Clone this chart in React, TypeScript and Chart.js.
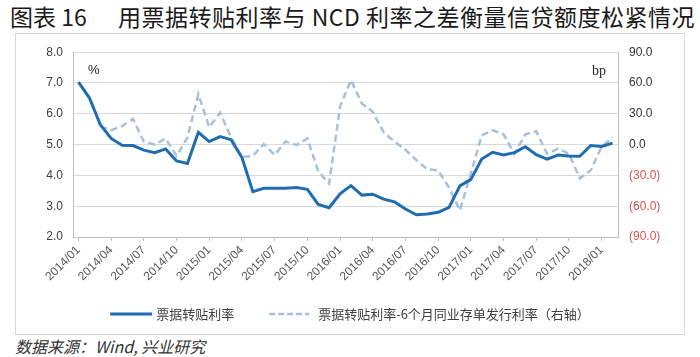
import React, { useEffect, useRef } from 'react';
import { Chart, registerables } from 'chart.js';

Chart.register(...registerables);

const months: string[] = [
  '2014/01', '2014/02', '2014/03', '2014/04', '2014/05', '2014/06', '2014/07', '2014/08', '2014/09', '2014/10', '2014/11', '2014/12',
  '2015/01', '2015/02', '2015/03', '2015/04', '2015/05', '2015/06', '2015/07', '2015/08', '2015/09', '2015/10', '2015/11', '2015/12',
  '2016/01', '2016/02', '2016/03', '2016/04', '2016/05', '2016/06', '2016/07', '2016/08', '2016/09', '2016/10', '2016/11', '2016/12',
  '2017/01', '2017/02', '2017/03', '2017/04', '2017/05', '2017/06', '2017/07', '2017/08', '2017/09', '2017/10', '2017/11', '2017/12',
  '2018/01', '2018/02',
];

// 票据转贴利率 (%)
const discountRate: number[] = [
  7.03, 6.52, 5.65, 5.2, 4.98, 4.97, 4.82, 4.74, 4.86, 4.47, 4.39, 5.4,
  5.1, 5.26, 5.16, 4.58, 3.47, 3.58, 3.58, 3.58, 3.61, 3.55, 3.06, 2.95,
  3.4, 3.67, 3.36, 3.39, 3.23, 3.14, 2.91, 2.72, 2.75, 2.8, 2.96, 3.66,
  3.87, 4.53, 4.75, 4.66, 4.74, 4.93, 4.67, 4.53, 4.66, 4.63, 4.62, 4.97,
  4.94, 5.05,
];

// 票据转贴利率-6个月同业存单发行利率 (bp, 右轴)
const spreadBp: (number | null)[] = [
  null, null, 18, 14, 18, 25, 3, 0, 6, -11, 7, 49,
  17, 31, 7, -12, -11, 0.5, -10, 3, -0.5, 6, -26, -38,
  37, 63, 40, 32, 12, 3, -5, -15, -24, -25, -42, -64,
  -28, 9, 14, 10, -9, 10, 13, -9, -4, -9, -33, -25,
  -2, 7,
];

const leftMin = 2;
const leftMax = 8;
const leftStep = 1;
const rightMin = -90;
const rightMax = 90;
const rightStep = 30;
const tickEvery = 3;

const titleLead = '图表 16';
const titleMain = '用票据转贴利率与 NCD 利率之差衡量信贷额度松紧情况';
const seriesNames = ['票据转贴利率', '票据转贴利率-6个月同业存单发行利率（右轴）'];
const sourceText = '数据来源：Wind, 兴业研究';

const SOLID = '#1f6db1';
const DASHED = '#a7c1dc';
const GRID = '#d9d9d9';
const AXIS = '#bfbfbf';
const CJK = '"Noto Sans CJK SC", "Noto Sans", sans-serif';

const overlayPlugin = {
  id: 'overlay',
  afterDraw(chart: any) {
    const { ctx, chartArea } = chart;
    ctx.save();
    ctx.fillStyle = '#262626';
    ctx.textBaseline = 'middle';
    ctx.textAlign = 'left';
    ctx.font = '13px "Liberation Sans", Arial, sans-serif';
    ctx.fillText('%', chartArea.left + 15, chartArea.top + 18);
    ctx.textAlign = 'right';
    ctx.font = '14px "Liberation Serif", serif';
    ctx.fillText('bp', chartArea.right - 12, chartArea.top + 19);

    // legend
    ctx.font = '13px ' + CJK;
    ctx.fillStyle = '#404040';
    ctx.textAlign = 'left';
    const w1 = ctx.measureText(seriesNames[0]).width;
    const w2 = ctx.measureText(seriesNames[1]).width;
    const s1 = 42, g1 = 4, gap = 35, s2 = 40, g2 = 9;
    const total = s1 + g1 + w1 + gap + s2 + g2 + w2;
    let x = chart.width / 2 - total / 2;
    const ly = 280;
    ctx.lineWidth = 3;
    ctx.strokeStyle = SOLID;
    ctx.setLineDash([]);
    ctx.beginPath();
    ctx.moveTo(x, ly);
    ctx.lineTo(x + s1, ly);
    ctx.stroke();
    x += s1 + g1;
    ctx.fillText(seriesNames[0], x, ly);
    x += w1 + gap;
    ctx.lineWidth = 2.5;
    ctx.strokeStyle = DASHED;
    ctx.setLineDash([6, 3]);
    ctx.beginPath();
    ctx.moveTo(x, ly);
    ctx.lineTo(x + s2, ly);
    ctx.stroke();
    ctx.setLineDash([]);
    x += s2 + g2;
    ctx.fillText(seriesNames[1], x, ly);
    ctx.restore();
  },
};

function ChartBox() {
  const ref = useRef<HTMLCanvasElement | null>(null);
  useEffect(() => {
    if (!ref.current) return;
    const chart = new Chart(ref.current, {
      type: 'line',
      data: {
        labels: months,
        datasets: [
          {
            label: seriesNames[0],
            data: discountRate,
            borderColor: SOLID,
            backgroundColor: SOLID,
            borderWidth: 3,
            pointRadius: 0,
            tension: 0,
            yAxisID: 'y',
            order: 1,
          },
          {
            label: seriesNames[1],
            data: spreadBp,
            borderColor: DASHED,
            backgroundColor: DASHED,
            borderWidth: 2.5,
            borderDash: [7, 4],
            pointRadius: 0,
            tension: 0,
            yAxisID: 'y1',
            order: 2,
          },
        ],
      },
      options: {
        animation: false,
        responsive: false,
        maintainAspectRatio: false,
        layout: { padding: { top: 14, left: 0, right: 0, bottom: 0 } },
        plugins: { legend: { display: false }, tooltip: { enabled: false } },
        scales: {
          x: {
            type: 'category',
            offset: true,
            afterFit: (s: any) => { s.height = 97; },
            grid: { offset: false, drawOnChartArea: false, drawTicks: true, tickLength: 4, color: AXIS },
            border: { display: true, color: AXIS },
            ticks: {
              autoSkip: false,
              maxRotation: 45,
              minRotation: 45,
              padding: 2,
              color: '#595959',
              font: { size: 12, family: '"Liberation Sans", Arial, sans-serif' },
              callback: (_v: any, i: number) => (i % tickEvery === 0 ? months[i] : null),
            },
          },
          y: {
            position: 'left',
            min: leftMin,
            max: leftMax,
            afterFit: (s: any) => { s.width = 57; },
            grid: { color: GRID, drawTicks: false },
            border: { display: true, color: AXIS },
            ticks: {
              stepSize: leftStep,
              padding: 10,
              color: '#404040',
              font: { size: 12, family: '"Liberation Sans", Arial, sans-serif' },
              callback: (v: any) => Number(v).toFixed(1),
            },
          },
          y1: {
            position: 'right',
            min: rightMin,
            max: rightMax,
            afterFit: (s: any) => { s.width = 66; },
            grid: { drawOnChartArea: false, drawTicks: false },
            border: { display: true, color: AXIS },
            ticks: {
              stepSize: rightStep,
              padding: 11,
              color: (c: any) => (c.tick && c.tick.value < 0 ? '#d9534f' : '#333333'),
              font: { size: 12, family: '"Liberation Sans", Arial, sans-serif' },
              callback: (v: any) => {
                const n = Number(v);
                return n < 0 ? '(' + Math.abs(n).toFixed(1) + ')' : n.toFixed(1);
              },
            },
          },
        },
      },
      plugins: [overlayPlugin],
    });
    return () => chart.destroy();
  }, []);
  return <canvas ref={ref} width={668} height={300} style={{ display: 'block', width: 668, height: 300 }} />;
}

export default function App() {
  return (
    <div style={{ position: 'fixed', left: 0, top: 0, width: 700, height: 357, background: '#ffffff', overflow: 'hidden' }}>
      <div style={{ position: 'absolute', left: 10, top: 4, fontFamily: CJK, fontSize: 23, lineHeight: '25px', color: '#1a1a1a', whiteSpace: 'nowrap' }}>
        {titleLead}
      </div>
      <div style={{ position: 'absolute', left: 118, top: 4, fontFamily: CJK, fontSize: 23, lineHeight: '25px', color: '#1a1a1a', whiteSpace: 'nowrap', letterSpacing: 0.5 }}>
        {titleMain}
      </div>
      <div style={{ position: 'absolute', left: 15, top: 33, width: 668, height: 300, border: '1px solid #d9d9d9' }}>
        <ChartBox />
      </div>
      <div style={{ position: 'absolute', left: 15, top: 336, fontFamily: CJK, fontSize: 16, lineHeight: '20px', fontStyle: 'italic', color: '#333333', whiteSpace: 'nowrap' }}>
        {sourceText}
      </div>
    </div>
  );
}
